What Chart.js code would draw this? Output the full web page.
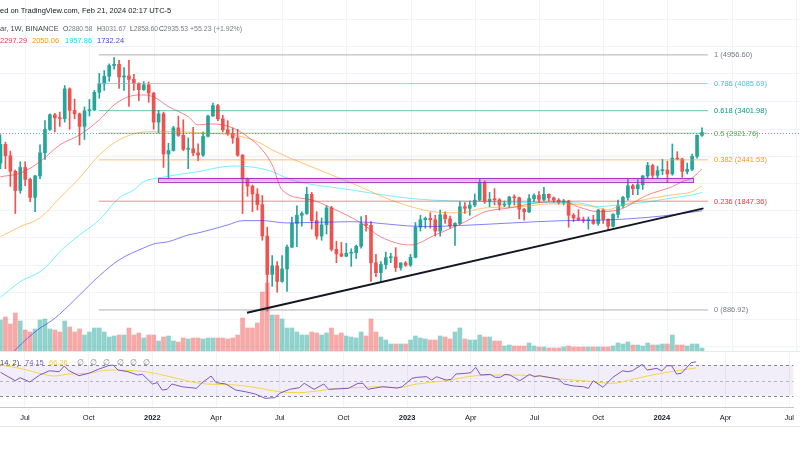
<!DOCTYPE html>
<html><head><meta charset="utf-8">
<script src="https://cdn.jsdelivr.net/npm/chart.js@4.4.1/dist/chart.umd.min.js"></script>
<style>
body{margin:0;background:#fff;}
#root{position:relative;width:800px;height:450px;overflow:hidden;font-family:"Liberation Sans",Arial,sans-serif;background:#fff;}
canvas{position:absolute;left:0;}
.t{position:absolute;white-space:nowrap;font-size:7.5px;line-height:9px;}
.hl{position:absolute;left:0;width:800px;height:1px;background:#e6e8ee;}
</style></head><body>
<div id="root">
<canvas id="main" width="800" height="351" style="top:0"></canvas>
<canvas id="rsi" width="800" height="99" style="top:351px"></canvas>
<div class="hl" style="top:351px"></div>
<div class="hl" style="top:426px"></div>
<div id="texts"></div>
</div>
<script>
// ---------- DATA ----------
const firstWeek = '2021-05-31';
const opens = [2390,2710,2510,2260,1985,2320,2140,1895,2190,2560,
 3000,3310,3240,3225,3940,3410,3330,3060,3400,3420,
 3850,4080,4290,4610,4650,4270,4300,4200,4090,3920,
 4050,3830,3150,3330,2540,2600,3030,2880,2620,2630,
 2560,2520,2860,3280,3520,3220,2990,2920,2830,2520,
 2145,2045,1940,1805,1460,1127,1195,1075,1169,1355,
 1590,1680,1700,1935,1620,1460,1575,1765,1335,1295,
 1275,1300,1305,1363,1586,1570,1219,1141,1205,1262,
 1268,1180,1218,1200,1265,1550,1630,1645,1630,1510,
 1685,1640,1565,1590,1780,1760,1800,1860,2100,1840,
 1870,1865,1800,1810,1900,1890,1750,1720,1880,1920,
 1870,1935,1890,1860,1830,1850,1680,1650,1630,1620,
 1625,1590,1740,1635,1560,1690,1790,1895,2050,2010,
 2065,2190,2350,2200,2270,2280,2220,2470,2455,2260,
 2290,2500,2880.58];
const highs = [2890,2750,2590,2280,2410,2410,2160,2200,2700,3180,
 3330,3340,3370,4030,3970,3680,3350,3490,3670,3900,
 4375,4460,4665,4868,4780,4550,4780,4350,4110,4140,
 4130,3850,3410,3370,2730,3060,3280,3200,2830,3040,
 2720,2950,3300,3580,3550,3300,3180,3030,3000,2530,
 2160,2060,2010,1920,1550,1280,1230,1280,1375,1660,
 1790,1720,2030,1960,1720,1650,1790,1785,1410,1400,
 1390,1340,1375,1665,1680,1610,1290,1230,1310,1300,
 1350,1220,1230,1290,1600,1680,1660,1710,1680,1740,
 1720,1670,1600,1840,1830,1850,1940,2140,2120,1960,
 2010,1880,1850,1910,1930,1900,1760,1930,1940,1970,
 2030,1940,1900,1880,1870,1860,1700,1745,1660,1660,
 1680,1750,1755,1640,1700,1860,1910,2140,2070,2140,
 2200,2400,2370,2340,2450,2420,2717,2580,2470,2390,
 2540,2890,3031.67];
const lows = [2300,2300,2040,1700,1950,2050,1840,1720,2150,2450,
 2980,2950,3060,3150,3000,3220,2700,2800,3280,3400,
 3700,3900,4150,4500,3950,3900,3500,3900,3640,3900,
 3600,3000,2930,2320,2160,2590,2860,2600,2300,2510,
 2430,2500,2850,3280,3180,2950,2880,2730,2500,1700,
 1910,1720,1740,1420,880,1040,1000,1070,1005,1350,
 1360,1560,1690,1530,1430,1420,1480,1320,1220,1270,
 1270,1190,1255,1345,1510,1075,1110,1073,1170,1220,
 1150,1160,1190,1190,1260,1510,1540,1540,1460,1460,
 1590,1540,1370,1580,1700,1680,1780,1850,1820,1780,
 1800,1740,1780,1770,1800,1640,1625,1710,1840,1830,
 1850,1850,1830,1810,1800,1550,1610,1620,1600,1530,
 1580,1570,1590,1520,1550,1650,1770,1860,1930,1930,
 2000,2160,2150,2150,2210,2100,2200,2440,2170,2220,
 2270,2470,2858.60];
const closes = [2710,2510,2260,1985,2320,2140,1895,2190,2560,3000,
 3310,3240,3225,3940,3410,3330,3060,3400,3420,3850,
 4080,4290,4610,4650,4270,4300,4200,4090,3920,4050,
 3830,3150,3330,2540,2600,3030,2880,2620,2630,2560,
 2520,2860,3280,3520,3220,2990,2920,2830,2520,2145,
 2045,1940,1805,1460,1127,1195,1075,1169,1355,1590,
 1680,1700,1935,1620,1460,1575,1765,1335,1295,1275,
 1300,1305,1363,1586,1570,1219,1141,1205,1262,1268,
 1180,1218,1200,1265,1550,1630,1645,1630,1510,1685,
 1640,1565,1590,1780,1760,1800,1860,2100,1840,1870,
 1865,1800,1810,1900,1890,1750,1720,1880,1920,1870,
 1935,1890,1860,1830,1850,1680,1650,1630,1620,1625,
 1590,1740,1635,1560,1690,1790,1895,2050,2010,2065,
 2190,2350,2200,2270,2280,2220,2470,2455,2260,2290,
 2500,2880,2935.53];
const volumes = [31,34,27,38,30,21,19,22,31,32,
 22,21,19,30,24,19,22,16,19,23,
 23,19,14,15,16,16,23,16,18,13,
 16,16,10,14,15,10,9,13,12,13,
 13,12,13,13,13,13,12,13,16,33,
 23,23,28,59,68,36,36,32,23,23,
 19,16,16,19,18,16,18,23,16,18,
 15,14,13,19,15,32,19,14,11,7,
 7,7,7,11,15,13,12,11,11,15,
 14,12,19,23,12,11,11,16,14,14,
 10,10,5,6,5,5,5,8,5,4,
 4,3,3,3,4,5,4,4,4,4,
 4,4,4,4,5,8,7,9,6,6,
 5,8,6,6,7,7,16,6,6,5,
 7,7,3];
// moving averages: [week index, price]
const maRed = [[0,2180],[4,2231],[8,2412],[12,2700],[16,2889],[20,3197],[23,3537],[26,3741],[29,3784],[31,3733],[34,3497],[38,3268],[40,3091],[43,3111],[47,3028],[50,2856],[53,2611],[55,2359],[57,1993],[63,1863],[67,1765],[73,1595],[77,1451],[83,1375],[88,1471],[94,1606],[98,1718],[103,1765],[109,1829],[114,1842],[117,1777],[121,1721],[125,1741],[131,1927],[136,2038],[138,2108],[140,2161],[142,2297.29]];
const maOrange = [[0,1454],[4,1556],[8,1650],[12,1889],[16,2161],[20,2524],[24,2793],[29,2948],[31,2954],[36,2954],[40,2928],[47,2889],[52,2761],[55,2611],[61,2392],[71,2090],[79,1863],[84,1765],[88,1718],[93,1707],[98,1765],[105,1777],[111,1814],[114,1814],[120,1781],[123,1741],[125,1781],[130,1863],[136,1927],[140,1970],[142,2050.06]];
const maCyan = [[0,965],[4,1074],[8,1148],[10,1218],[12,1314],[16,1471],[20,1628],[24,1889],[27,1993],[29,2108],[32,2161],[40,2255],[47,2343],[54,2281],[59,2132],[71,1993],[84,1876],[98,1842],[111,1829],[117,1826],[121,1781],[125,1801],[130,1829],[136,1889],[140,1927],[142,1957.86]];
const maBlue = [[0,600],[3,677],[8,785],[10,818],[12,863],[16,981],[20,1116],[24,1243],[29,1348],[31,1384],[34,1406],[38,1471],[40,1491],[46,1574],[49,1620],[53,1620],[58,1595],[71,1609],[86,1556],[91,1563],[114,1620],[123,1628],[134,1672],[142,1732.24]];
const rsi = [[0,60.6],[3,49.7],[4,53.6],[6,48.1],[8,57.1],[10,62.6],[12,61.4],[13,68.7],[14,62.6],[16,56.2],[18,59.3],[20,64.5],[22,69.1],[23,70],[24,63.5],[26,61.4],[28,57.1],[29,58],[31,45.5],[32,47.2],[33,37.7],[34,38.6],[35,45.5],[37,42],[40,39.9],[41,46.4],[43,55.8],[44,47.2],[46,45.5],[48,37.7],[50,35.5],[52,32.6],[54,27],[56,27.8],[57,33.5],[59,38.6],[61,40.7],[62,46.4],[64,38.6],[66,45.5],[67,38.6],[71,39.9],[73,46.4],[74,46.4],[75,38.6],[78,42],[81,40.3],[82,42],[84,52.8],[85,54.1],[87,54.9],[88,50.6],[89,54.9],[91,50.6],[92,51.5],[93,58.4],[95,59.3],[96,60.1],[97,67],[98,57.1],[100,58],[101,54.1],[102,54.1],[103,58],[104,57.1],[106,49.7],[108,58],[109,54.9],[110,56.2],[113,52.8],[114,51.5],[115,45.5],[117,42.9],[119,42],[120,39.9],[121,49.7],[123,41.2],[125,54.1],[127,62.6],[128,61.4],[129,62.6],[131,70.9],[132,63.5],[134,65.7],[135,62.3],[136,69.1],[137,69.1],[138,58.4],[139,59.3],[141,73],[142,74.15]];
const rsiMa = [[0,70],[4,65.7],[8,59.3],[11,55.8],[14,58.4],[18,59.3],[22,63.5],[24,63.5],[28,62.3],[30,61],[34,55.8],[38,49.7],[42,45.5],[48,44.2],[53,39.9],[57,35.5],[61,34.3],[65,36.8],[69,39.9],[73,40.7],[77,42],[81,40.7],[85,45.5],[91,49.7],[97,56.2],[103,57.1],[109,56.2],[115,51.5],[119,49.7],[125,46.4],[129,51.5],[133,57.1],[138,62.6],[142,66.26]];
const fibRatios = [1, 0.786, 0.618, 0.5, 0.382, 0.236, 0];
const fibPrices = [4956.60, 4085.69, 3401.98, 2921.76, 2441.53, 1847.36, 886.92];
const fibWeeks = [19.9, 143.2];
const trendLine = [[49.9, 870], [142.3, 1760]];
const zoneWeeks = [31.9, 140.2];
const zonePrices = [2106, 2163];
const gridPrices = [6330, 5270, 4380, 3630, 3010, 2510, 2090, 1735, 1450, 1200, 1000, 835, 694];
const tickMonths = ['2021-07-01','2021-10-01','2022-01-01','2022-04-01','2022-07-01','2022-10-01','2023-01-01','2023-04-01','2023-07-01','2023-10-01','2024-01-01','2024-04-01','2024-07-01'];
const tickLabels = ['Jul','Oct','2022','Apr','Jul','Oct','2023','Apr','Jul','Oct','2024','Apr','Jul'];
const priceChange = '+55.23 (+1.92%)';

// ---------- STYLE ----------
const FONT = '"Liberation Sans", Arial, sans-serif';
const UP = '#26a69a', DOWN = '#ef5350';
const fibLine = ['rgba(120,123,134,0.6)','rgba(77,208,225,0.7)','rgba(8,153,129,0.6)','rgba(76,175,80,0.6)','rgba(255,152,0,0.6)','rgba(242,54,69,0.6)','rgba(120,123,134,0.6)'];
const fibText = ['#787b86','#3fc6d8','#089981','#4caf50','#ff9800','#f23645','#787b86'];
const X_MIN = -0.101, X_MAX = 161.84;

const DAY = 86400000;
const t0 = Date.parse(firstWeek + 'T00:00:00Z');
const tickWeeks = tickMonths.map(s => {
  const d = new Date(s + 'T00:00:00Z');
  const add = (8 - d.getUTCDay()) % 7;
  return (d.getTime() + add * DAY - t0) / (7 * DAY);
});

const dirUp = opens.map((o, i) => closes[i] >= o);
const candleColors = dirUp.map(u => u ? UP : DOWN);
const volColors = dirUp.map(u => u ? 'rgba(38,166,154,0.5)' : 'rgba(239,83,80,0.5)');
const toXY = arr => arr.map(([x, y]) => ({x, y}));

const lineDs = (label, pts, color, order, w) => ({
  type: 'line', label, data: toXY(pts), borderColor: color, borderWidth: w || 1,
  pointRadius: 0, tension: 0.35, cubicInterpolationMode: 'monotone', yAxisID: 'y', order, clip: 0
});

const mainPlugin = {
  id: 'mainDeco',
  beforeDatasetsDraw(chart) {
    const {ctx, chartArea: a, scales: {x, y}} = chart;
    ctx.save();
    ctx.strokeStyle = '#f0f3fa'; ctx.lineWidth = 1;
    tickWeeks.forEach(t => {
      const px = Math.round(x.getPixelForValue(t)) + 0.5;
      ctx.beginPath(); ctx.moveTo(px, a.top); ctx.lineTo(px, a.bottom); ctx.stroke();
    });
    gridPrices.forEach(p => {
      const py = Math.round(y.getPixelForValue(p)) + 0.5;
      ctx.beginPath(); ctx.moveTo(a.left, py); ctx.lineTo(a.right, py); ctx.stroke();
    });
    ctx.restore();
  },
  afterDatasetsDraw(chart) {
    const {ctx, chartArea: a, scales: {x, y}} = chart;
    ctx.save();
    const x1 = x.getPixelForValue(zoneWeeks[0]), x2 = x.getPixelForValue(zoneWeeks[1]);
    const y1 = y.getPixelForValue(zonePrices[1]), y2 = y.getPixelForValue(zonePrices[0]);
    ctx.fillStyle = 'rgba(186,104,200,0.45)';
    ctx.fillRect(x1, y1, x2 - x1, y2 - y1);
    ctx.strokeStyle = 'rgba(156,39,176,0.85)'; ctx.lineWidth = 1;
    ctx.strokeRect(Math.round(x1) + 0.5, Math.round(y1) + 0.5, Math.round(x2 - x1), Math.round(y2 - y1));
    const last = closes[closes.length - 1];
    const py = Math.round(y.getPixelForValue(last)) + 0.5;
    ctx.strokeStyle = 'rgba(38,166,154,0.8)'; ctx.setLineDash([1, 2]);
    ctx.beginPath(); ctx.moveTo(a.left, py); ctx.lineTo(a.right, py); ctx.stroke();
    ctx.restore();
  }
};

const datasets = [
  {type: 'bar', label: 'Volume', data: volumes.map((v, i) => ({x: i, y: v})), yAxisID: 'v',
   backgroundColor: volColors, grouped: false, barPercentage: 1, categoryPercentage: 1, maxBarThickness: 4, order: 20},
  lineDs('MA blue', maBlue, 'rgba(45,45,255,0.6)', 9),
  lineDs('MA cyan', maCyan, 'rgba(0,229,255,0.55)', 8),
  lineDs('MA orange', maOrange, 'rgba(255,152,0,0.55)', 7),
  lineDs('MA red', maRed, 'rgba(242,54,69,0.6)', 6),
  ...fibPrices.map((p, k) => ({type: 'line', label: 'Fib ' + fibRatios[k],
    data: [{x: fibWeeks[0], y: p}, {x: fibWeeks[1], y: p}], borderColor: fibLine[k], borderWidth: 1,
    pointRadius: 0, yAxisID: 'y', order: 5})),
  {type: 'line', label: 'Trend', data: toXY(trendLine), borderColor: '#131722', borderWidth: 2, pointRadius: 0, yAxisID: 'y', order: 4},
  {type: 'bar', label: 'Wicks', data: lows.map((l, i) => ({x: i, y: [l, highs[i]]})), yAxisID: 'y',
   backgroundColor: candleColors, grouped: false, barPercentage: 1, categoryPercentage: 1, maxBarThickness: 1, order: 11},
  {type: 'bar', label: 'Candles', data: opens.map((o, i) => ({x: i, y: [o, closes[i]]})), yAxisID: 'y',
   backgroundColor: candleColors, grouped: false, barPercentage: 1, categoryPercentage: 1, maxBarThickness: 3, minBarLength: 1, order: 10}
];

const mainChart = new Chart(document.getElementById('main'), {
  type: 'bar',
  data: {datasets},
  options: {
    responsive: false, animation: false, devicePixelRatio: 1,
    layout: {padding: 0, autoPadding: false},
    plugins: {legend: {display: false}, tooltip: {enabled: false}},
    scales: {
      x: {type: 'linear', min: X_MIN, max: X_MAX, display: false, offset: false},
      y: {type: 'logarithmic', min: 672.4, max: 7178, display: false},
      v: {type: 'linear', min: 0, max: 351, display: false}
    }
  },
  plugins: [mainPlugin]
});

const rsiPlugin = {
  id: 'rsiDeco',
  beforeDatasetsDraw(chart) {
    const {ctx, chartArea: a, scales: {y}} = chart;
    ctx.save();
    const y70 = y.getPixelForValue(70), y30 = y.getPixelForValue(30), y50 = y.getPixelForValue(50);
    ctx.fillStyle = 'rgba(126,87,194,0.1)';
    ctx.fillRect(a.left, y70, a.right - a.left, y30 - y70);
    ctx.lineWidth = 1; ctx.setLineDash([3, 3]);
    [[y70, 'rgba(120,123,134,0.9)'], [y50, 'rgba(120,123,134,0.5)'], [y30, 'rgba(120,123,134,0.9)']].forEach(([py, c]) => {
      ctx.strokeStyle = c; const yy = Math.round(py) + 0.5;
      ctx.beginPath(); ctx.moveTo(a.left, yy); ctx.lineTo(a.right, yy); ctx.stroke();
    });
    ctx.restore();
  }
};

new Chart(document.getElementById('rsi'), {
  type: 'line',
  data: {datasets: [
    {label: 'RSI', data: toXY(rsi), borderColor: '#7e57c2', borderWidth: 1, pointRadius: 0, tension: 0, order: 1},
    {label: 'RSI MA', data: toXY(rsiMa), borderColor: '#f5d547', borderWidth: 1, pointRadius: 0, tension: 0.35, cubicInterpolationMode: 'monotone', order: 2}
  ]},
  options: {
    responsive: false, animation: false, devicePixelRatio: 1,
    layout: {padding: 0, autoPadding: false},
    plugins: {legend: {display: false}, tooltip: {enabled: false}},
    scales: {
      x: {type: 'linear', min: X_MIN, max: X_MAX, offset: false,
        afterBuildTicks: ax => { ax.ticks = tickWeeks.map(v => ({value: v})); },
        afterFit: ax => { ax.height = 43; },
        grid: {color: '#f0f3fa', drawTicks: false},
        border: {display: true, color: '#c5c7cc'},
        ticks: {autoSkip: false, maxRotation: 0, minRotation: 0, padding: 6, color: '#131722',
          font: c => ({family: FONT, size: 7.5, weight: /^\d{4}$/.test(tickLabels[c.index]) ? 'bold' : 'normal'}),
          callback: (v, i) => tickLabels[i]}},
      y: {type: 'linear', min: 15.8, max: 88.1, display: false}
    }
  },
  plugins: [rsiPlugin]
});

// ---------- TEXTS ----------
const texts = document.getElementById('texts');
function addText(str, left, top, color, extra) {
  const d = document.createElement('div');
  d.className = 't'; d.textContent = str;
  d.style.left = left + 'px'; d.style.top = top + 'px'; d.style.color = color;
  if (extra) Object.assign(d.style, extra);
  texts.appendChild(d);
  return d;
}
addText('ed on TradingView.com, Feb 21, 2024 02:17 UTC-5', 0, 5.5, '#131722');
addText('ar, 1W, BINANCE', 0, 23.5, '#434651');
const ohlc = [['O', opens], ['H', highs], ['L', lows], ['C', closes]];
const ohlcX = [63, 97, 130, 159];
ohlc.forEach(([k, arr], j) => {
  const d = addText('', ohlcX[j], 23.5, '#434651', {fontSize: '6.7px'});
  d.innerHTML = k + '<span style="color:#787b86">' + arr[arr.length - 1].toFixed(2) + '</span>';
});
addText(priceChange, 190, 23.5, '#787b86', {fontSize: '7px'});
const maLast = [[maRed, '#f23645', 0], [maOrange, '#ff9800', 32], [maCyan, '#00e5ff', 65], [maBlue, '#3d3dff', 97]];
maLast.forEach(([arr, c, x]) => addText(arr[arr.length - 1][1].toFixed(2), x, 35.5, c));

addText('14, 2)', 0, 357.5, '#434651');
addText(rsi[rsi.length - 1][1].toFixed(2), 25, 357.5, '#7e57c2');
addText(rsiMa[rsiMa.length - 1][1].toFixed(2), 49, 357.5, '#f5c842');
[77, 90, 103, 117, 130, 143].forEach(x => addText('\u2205', x, 357.5, '#787b86'));

const ys = mainChart.scales.y;
fibPrices.forEach((p, k) => {
  const py = ys.getPixelForValue(p);
  addText(fibRatios[k] + ' (' + p.toFixed(2) + ')', 714, py - 4.5, fibText[k]);
});
</script>
</body></html>
